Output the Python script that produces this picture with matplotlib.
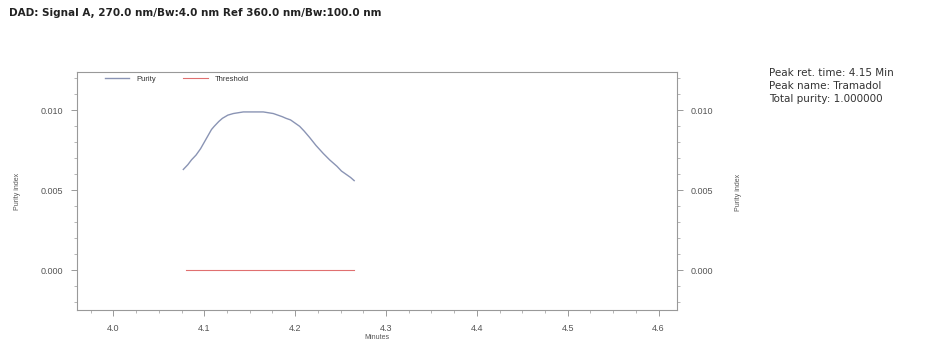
import matplotlib
matplotlib.use("Agg")
import matplotlib.pyplot as plt
from matplotlib.ticker import MultipleLocator

# purity curve
purity_x = [4.077, 4.082, 4.086, 4.091, 4.096, 4.100, 4.104, 4.108, 4.111, 4.116, 4.120,
            4.126, 4.132, 4.143, 4.154, 4.165, 4.176, 4.181, 4.186, 4.190, 4.195, 4.200,
            4.205, 4.210, 4.216, 4.223, 4.231, 4.238, 4.246, 4.251, 4.256, 4.261, 4.265]
purity_y = [0.0063, 0.0066, 0.0069, 0.0072, 0.0076, 0.0080, 0.0084, 0.0088, 0.0090, 0.0093, 0.0095,
            0.0097, 0.0098, 0.0099, 0.0099, 0.0099, 0.0098, 0.0097, 0.0096, 0.0095, 0.0094, 0.0092,
            0.0090, 0.0087, 0.0083, 0.0078, 0.0073, 0.0069, 0.0065, 0.0062, 0.0060, 0.0058, 0.0056]
threshold_x = [4.08, 4.265]
threshold_y = [0.0, 0.0]

x_ticks = [4.0, 4.1, 4.2, 4.3, 4.4, 4.5, 4.6]
y_ticks = [0.0, 0.005, 0.010]

title = "DAD: Signal A, 270.0 nm/Bw:4.0 nm Ref 360.0 nm/Bw:100.0 nm"
info = ["Peak ret. time: 4.15 Min", "Peak name: Tramadol", "Total purity: 1.000000"]

plt.rcParams['font.family'] = ['Liberation Sans', 'DejaVu Sans']

fig = plt.figure(figsize=(9.46, 3.49), dpi=100)
ax = fig.add_axes([0.0814, 0.1117, 0.634, 0.682])

ax.plot(purity_x, purity_y, color='#8a94b4', lw=1.0, label='Purity')
ax.plot(threshold_x, threshold_y, color='#e07070', lw=0.8, label='Threshold')

ax.set_xlim(3.96, 4.62)
ax.set_ylim(-0.0025, 0.0124)
ax.set_xticks(x_ticks)
ax.set_xticklabels(["%.1f" % v for v in x_ticks])
ax.set_yticks(y_ticks)
ax.set_yticklabels(["%.3f" % v for v in y_ticks])
ax.xaxis.set_minor_locator(MultipleLocator(0.025))
ax.yaxis.set_minor_locator(MultipleLocator(0.001))

gray = '#555555'
for s in ax.spines.values():
    s.set_color('#999999')
    s.set_linewidth(0.8)
ax.tick_params(which='both', direction='out', colors='#999999', labelcolor=gray, labelsize=6.5)
ax.tick_params(which='major', length=4, width=0.7, pad=6)
ax.tick_params(which='minor', length=2, width=0.5)
ax.tick_params(axis='y', which='both', right=True, labelright=True)
ax.set_xlabel("Minutes", fontsize=5, color=gray, labelpad=1)
ax.set_ylabel("Purity index", fontsize=5, color=gray, labelpad=14)

# right-hand axis label
fig.text(0.781, 0.45, "Purity index", fontsize=5, color=gray, rotation=90,
         ha='center', va='center')

leg = ax.legend(loc='upper left', ncol=2, frameon=False, fontsize=5.5,
                bbox_to_anchor=(0.035, 1.015), handlelength=3.2, columnspacing=3.6,
                handletextpad=0.9)
for t in leg.get_texts():
    t.set_color('#333333')

fig.text(0.009, 0.962, title, fontsize=7.5, fontweight='bold', color='#222222',
         family=['DejaVu Sans'], va='center')
for i, line in enumerate(info):
    fig.text(0.813, 0.79 - i * 0.037, line, fontsize=7.5, color='#333333',
             family=['DejaVu Sans'], va='center')

fig.savefig("out.png", dpi=100, facecolor='white')
